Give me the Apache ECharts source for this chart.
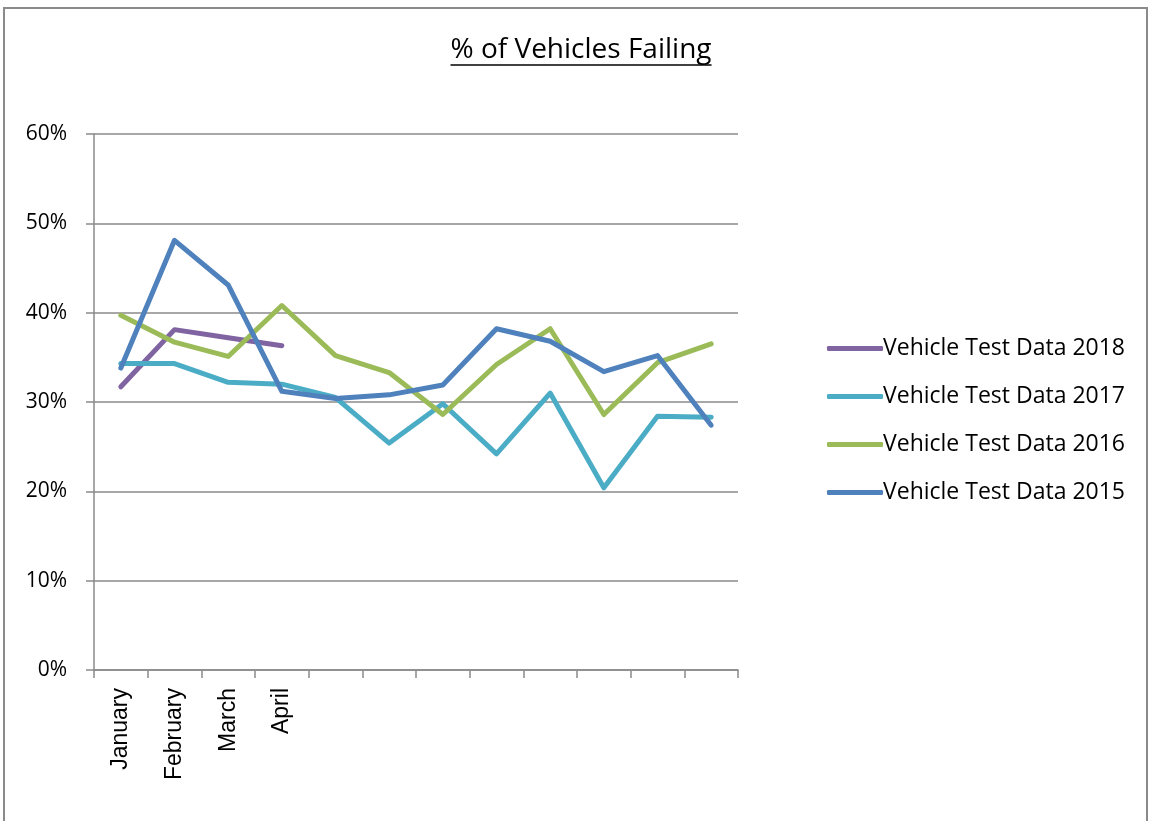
<!DOCTYPE html>
<html>
<head>
<meta charset="utf-8">
<title>% of Vehicles Failing</title>
<script src="https://cdn.jsdelivr.net/npm/echarts@6/dist/echarts.min.js"></script>
<style>
  html, body { margin: 0; padding: 0; background: #fff; }
  #main { width: 1150px; height: 821px; }
</style>
</head>
<body>
<div id="main"></div>
<script>
// 月份 (only first four are labelled in the original)
const months = ['January', 'February', 'March', 'April', '', '', '', '', '', '', '', ''];
const yTicks = [0, 10, 20, 30, 40, 50, 60];

// 数据 %
const data2018 = [31.7, 38.1, 37.2, 36.3];
const data2017 = [34.3, 34.3, 32.2, 32.0, 30.5, 25.4, 29.8, 24.2, 31.0, 20.4, 28.4, 28.3];
const data2016 = [39.7, 36.7, 35.1, 40.8, 35.2, 33.3, 28.6, 34.2, 38.2, 28.6, 34.4, 36.5];
const data2015 = [33.8, 48.1, 43.1, 31.2, 30.4, 30.8, 31.9, 38.2, 36.8, 33.4, 35.2, 27.4];

const seriesNames = ['Vehicle Test Data 2018', 'Vehicle Test Data 2017', 'Vehicle Test Data 2016', 'Vehicle Test Data 2015'];
const seriesColors = ['#8064A2', '#4BACC6', '#9BBB59', '#4F81BD'];

const chart = echarts.init(document.getElementById('main'), null, { renderer: 'canvas' });

const titleText = '% of Vehicles Failing';
const titleFont = '28px "Open Sans"';
// measure title width for the underline
let ctx = document.createElement('canvas').getContext('2d');
ctx.font = titleFont;
let titleW = ctx.measureText(titleText).width;
let titleX = 581;

const gridColor = '#8a8a8a';

function makeLine(name, values, color) {
  return {
    name: name,
    type: 'line',
    data: values,
    symbol: 'none',
    smooth: false,
    lineStyle: { width: 5, color: color, cap: 'round', join: 'round' },
    itemStyle: { color: color },
    emphasis: { disabled: true }
  };
}

const option = {
  animation: false,
  backgroundColor: '#fff',
  graphic: [
    // outer border
    {
      type: 'rect',
      shape: { x: 4, y: 8, width: 1143, height: 830 },
      style: { fill: 'none', stroke: '#8a8a8a', lineWidth: 2 },
      silent: true
    },
    {
      type: 'text',
      x: titleX,
      y: 50,
      style: {
        text: titleText,
        font: titleFont,
        fill: '#000',
        textAlign: 'center',
        textVerticalAlign: 'middle'
      }
    },
    // underline
    {
      type: 'line',
      shape: { x1: titleX - titleW / 2, y1: 65, x2: titleX + titleW / 2, y2: 65 },
      style: { stroke: '#000', lineWidth: 1.6 }
    }
  ],
  legend: {
    orient: 'vertical',
    left: 822,
    top: 332,
    itemWidth: 56,
    itemHeight: 5,
    itemGap: 25,
    icon: 'roundRect',
    data: seriesNames,
    textStyle: {
      fontFamily: 'Open Sans',
      fontSize: 23,
      color: '#000',
      padding: [0, 0, 0, -5]
    },
    selectedMode: false
  },
  grid: {
    left: 94,
    top: 134,
    right: 412,
    bottom: 151,
    containLabel: false
  },
  xAxis: {
    type: 'category',
    data: months,
    boundaryGap: true,
    axisLine: { lineStyle: { color: gridColor, width: 1.5 } },
    axisTick: { show: true, interval: 0, length: 8, lineStyle: { color: gridColor, width: 1.5 } },
    axisLabel: {
      interval: 0,
      rotate: 90,
      margin: 18,
      fontFamily: 'Liberation Sans',
      fontSize: 23,
      color: '#000'
    },
    splitLine: { show: false }
  },
  yAxis: {
    type: 'value',
    min: 0,
    max: 60,
    interval: 10,
    axisLine: { show: true, lineStyle: { color: gridColor, width: 1.5 } },
    axisTick: { show: true, length: 8, lineStyle: { color: gridColor, width: 1.5 } },
    axisLabel: {
      formatter: '{value}%',
      margin: 27,
      fontFamily: 'Open Sans',
      fontSize: 21,
      color: '#000'
    },
    splitLine: { show: true, lineStyle: { color: gridColor, width: 1.5 } }
  },
  series: [
    makeLine(seriesNames[0], data2018, seriesColors[0]),
    makeLine(seriesNames[1], data2017, seriesColors[1]),
    makeLine(seriesNames[2], data2016, seriesColors[2]),
    makeLine(seriesNames[3], data2015, seriesColors[3])
  ]
};

chart.setOption(option);
</script>
</body>
</html>
